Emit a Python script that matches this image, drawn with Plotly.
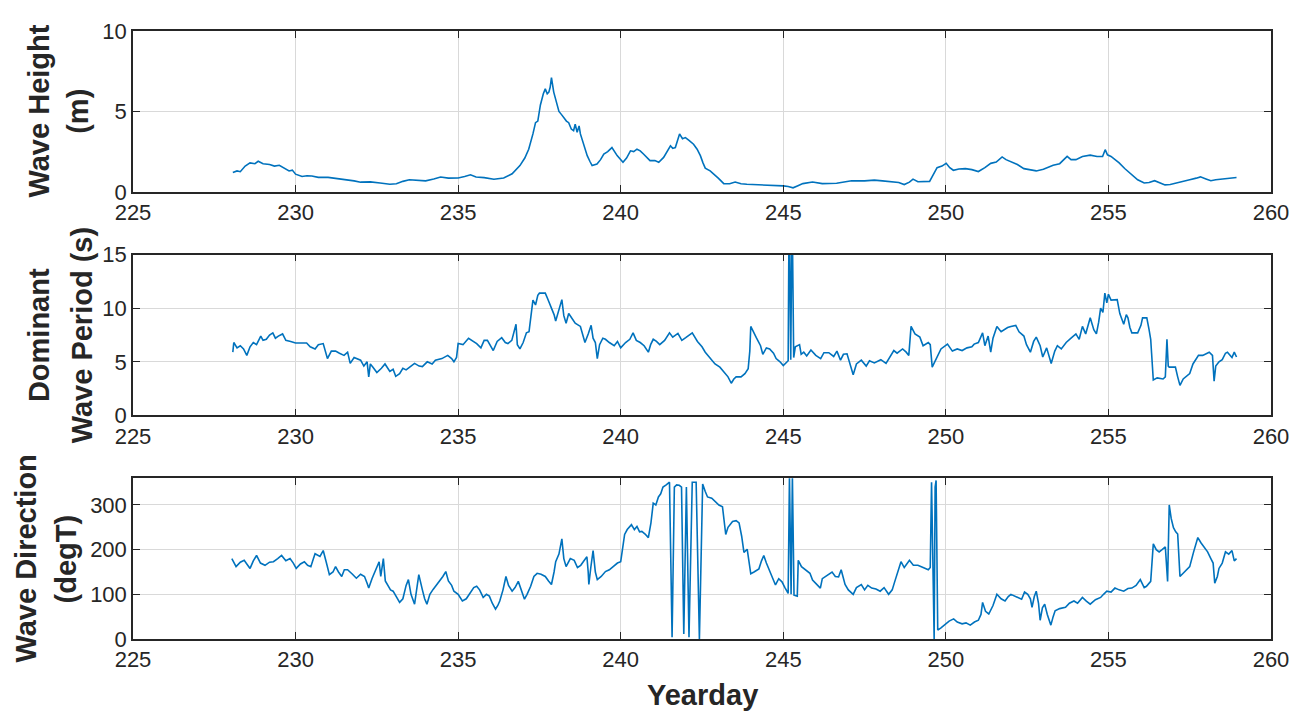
import plotly.graph_objects as go
from plotly.subplots import make_subplots

# wave height (m) vs yearday
height_day = [228.07, 228.2, 228.3, 228.45, 228.6, 228.75, 228.85, 229.0, 229.2, 229.35, 229.5, 229.65,
              229.8, 229.9, 230.0, 230.2, 230.35, 230.5, 230.7, 231.0, 231.2, 231.5, 231.8, 232.0, 232.3,
              232.6, 232.9, 233.1, 233.3, 233.5, 233.75, 234.0, 234.25, 234.46, 234.7, 235.0, 235.2, 235.38,
              235.55, 235.8, 236.1, 236.4, 236.66, 236.9, 237.05, 237.17, 237.3, 237.38, 237.45, 237.53,
              237.62, 237.68, 237.74, 237.79, 237.83, 237.87, 237.94, 238.02, 238.1, 238.18, 238.25, 238.33,
              238.4, 238.48, 238.55, 238.6, 238.66, 238.72, 238.76, 238.85, 238.97, 239.05, 239.12, 239.27,
              239.38, 239.48, 239.6, 239.73, 239.8, 239.89, 240.07, 240.18, 240.3, 240.4, 240.5, 240.6,
              240.7, 240.8, 240.9, 241.05, 241.17, 241.32, 241.45, 241.53, 241.6, 241.68, 241.75, 241.81,
              241.9, 241.99, 242.1, 242.24, 242.35, 242.45, 242.53, 242.6, 242.75, 242.86, 243.0, 243.17,
              243.35, 243.52, 243.7, 243.88, 244.29, 244.7, 245.0, 245.15, 245.3, 245.45, 245.6, 245.9,
              246.2, 246.64, 246.9, 247.1, 247.5, 247.8, 248.05, 248.3, 248.55, 248.72, 248.88, 248.99,
              249.14, 249.5, 249.62, 249.73, 249.88, 250.01, 250.12, 250.23, 250.4, 250.6, 250.8, 251.0,
              251.2, 251.38, 251.55, 251.73, 251.85, 252.0, 252.2, 252.4, 252.6, 252.78, 253.0, 253.3,
              253.5, 253.73, 253.85, 254.0, 254.2, 254.44, 254.65, 254.82, 254.9, 254.97, 255.08, 255.2,
              255.33, 255.5, 255.7, 255.9, 256.1, 256.25, 256.42, 256.55, 256.74, 256.9, 257.13, 257.3,
              257.5, 257.7, 257.83, 258.0, 258.15, 258.3, 258.53, 258.75, 258.94]
height_m = [1.2, 1.3, 1.25, 1.6, 1.8, 1.75, 1.9, 1.75, 1.7, 1.6, 1.65, 1.45,
            1.3, 1.35, 1.1, 0.95, 1.0, 0.98, 0.9, 0.9, 0.85, 0.75, 0.68, 0.6, 0.62,
            0.55, 0.47, 0.5, 0.65, 0.75, 0.72, 0.68, 0.8, 0.92, 0.85, 0.86, 0.95, 1.06,
            0.92, 0.88, 0.78, 0.86, 1.12, 1.63, 2.1, 2.65, 3.6, 4.3, 4.4, 5.4,
            6.1, 6.4, 6.1, 6.2, 6.5, 7.1, 6.2, 5.6, 5.0, 4.8, 4.6, 4.4,
            4.3, 3.9, 3.8, 4.2, 3.7, 4.1, 3.6, 3.0, 2.25, 1.9, 1.63, 1.73,
            2.0, 2.35, 2.5, 2.75, 2.5, 2.25, 1.84, 2.1, 2.55, 2.5, 2.65, 2.55,
            2.35, 2.15, 1.94, 1.95, 1.84, 2.14, 2.6, 2.86, 2.7, 2.75, 3.2, 3.6,
            3.3, 3.37, 3.2, 2.96, 2.65, 2.25, 1.8, 1.47, 1.3, 1.12, 0.85, 0.51,
            0.5, 0.61, 0.5, 0.47, 0.45, 0.41, 0.37, 0.33, 0.25, 0.38, 0.51, 0.61,
            0.51, 0.53, 0.6, 0.69, 0.68, 0.73, 0.68, 0.63, 0.58, 0.45, 0.6, 0.79,
            0.63, 0.65, 1.05, 1.5, 1.6, 1.77, 1.5, 1.34, 1.42, 1.44, 1.38, 1.26,
            1.5, 1.77, 1.85, 2.17, 2.0, 1.85, 1.7, 1.44, 1.38, 1.3, 1.4, 1.65,
            1.75, 2.2, 2.0, 2.0, 2.2, 2.28, 2.2, 2.2, 2.62, 2.3, 2.2, 2.0,
            1.8, 1.45, 1.1, 0.75, 0.55, 0.58, 0.69, 0.6, 0.43, 0.45, 0.55, 0.65,
            0.75, 0.85, 0.93, 0.8, 0.69, 0.75, 0.79, 0.82, 0.89]

# dominant wave period (s) vs yearday
period_day = [228.07, 228.1, 228.2, 228.3, 228.4, 228.5, 228.6, 228.7, 228.8, 228.93, 229.0, 229.1,
              229.2, 229.3, 229.38, 229.47, 229.6, 229.7, 229.85, 230.0, 230.34, 230.45, 230.6, 230.7,
              230.85, 230.98, 231.1, 231.23, 231.35, 231.49, 231.6, 231.68, 231.8, 232.0, 232.1, 232.2,
              232.25, 232.3, 232.38, 232.5, 232.64, 232.75, 232.9, 233.0, 233.08, 233.2, 233.3, 233.4,
              233.55, 233.66, 233.8, 233.9, 234.05, 234.2, 234.3, 234.5, 234.68, 234.8, 234.87, 234.95,
              235.0, 235.15, 235.32, 235.45, 235.57, 235.7, 235.8, 235.9, 236.0, 236.08, 236.2, 236.34,
              236.45, 236.53, 236.65, 236.78, 236.82, 236.9, 237.0, 237.1, 237.18, 237.25, 237.3, 237.38,
              237.45, 237.5, 237.68, 237.75, 237.87, 237.95, 238.0, 238.1, 238.19, 238.25, 238.32, 238.4,
              238.5, 238.6, 238.76, 238.84, 238.9, 239.0, 239.09, 239.15, 239.22, 239.28, 239.35, 239.45,
              239.53, 239.65, 239.8, 239.9, 240.0, 240.15, 240.28, 240.38, 240.48, 240.6, 240.72, 240.85,
              240.92, 241.0, 241.1, 241.2, 241.35, 241.5, 241.6, 241.76, 241.88, 242.0, 242.1, 242.2,
              242.36, 242.5, 242.6, 242.75, 242.9, 243.05, 243.2, 243.3, 243.4, 243.48, 243.55, 243.7,
              243.82, 243.92, 243.97, 244.0, 244.17, 244.3, 244.37, 244.48, 244.58, 244.7, 244.78, 244.9,
              245.0, 245.1, 245.15, 245.18, 245.23, 245.27, 245.32, 245.37, 245.5, 245.55, 245.63, 245.72,
              245.85, 246.0, 246.15, 246.25, 246.4, 246.55, 246.65, 246.76, 246.85, 246.96, 247.05, 247.15,
              247.25, 247.4, 247.55, 247.65, 247.8, 248.0, 248.16, 248.3, 248.4, 248.5, 248.67, 248.78,
              248.86, 248.93, 249.05, 249.2, 249.3, 249.46, 249.52, 249.58, 249.7, 249.85, 250.05, 250.2,
              250.35, 250.5, 250.65, 250.8, 250.87, 251.0, 251.13, 251.2, 251.3, 251.38, 251.45, 251.57,
              251.7, 251.9, 252.0, 252.15, 252.25, 252.4, 252.48, 252.6, 252.7, 252.78, 252.9, 252.98,
              253.1, 253.24, 253.35, 253.43, 253.55, 253.7, 253.85, 254.0, 254.1, 254.2, 254.3, 254.44,
              254.55, 254.63, 254.7, 254.76, 254.83, 254.89, 254.95, 255.0, 255.08, 255.27, 255.35, 255.47,
              255.55, 255.6, 255.66, 255.72, 255.9, 256.0, 256.05, 256.18, 256.25, 256.3, 256.38, 256.5,
              256.68, 256.75, 256.8, 256.84, 256.87, 257.06, 257.13, 257.2, 257.3, 257.5, 257.6, 257.77,
              257.9, 258.1, 258.2, 258.25, 258.3, 258.4, 258.5, 258.6, 258.66, 258.8, 258.87, 258.94]
period_s = [5.9, 6.8, 6.3, 6.5, 6.2, 5.6, 6.4, 6.8, 6.6, 7.4, 7.0, 7.1,
            7.5, 7.7, 7.2, 7.4, 7.6, 7.0, 6.9, 6.75, 6.75, 6.4, 6.2, 6.6,
            6.7, 5.3, 6.0, 6.0, 5.8, 5.6, 5.9, 4.85, 5.4, 5.15, 4.6, 5.0,
            3.6, 4.8, 4.5, 4.0, 4.4, 4.8, 4.1, 4.3, 3.65, 3.9, 4.4, 4.25,
            4.6, 4.85, 4.6, 4.55, 5.0, 4.8, 5.15, 5.3, 5.6, 5.3, 5.0, 5.4,
            6.7, 6.6, 7.2, 6.9, 6.7, 6.3, 7.0, 7.0, 6.5, 6.05, 6.9, 7.25,
            6.8, 6.7, 7.0, 8.5, 6.6, 6.2, 6.8, 7.7, 7.8, 9.8, 10.75, 10.3,
            11.2, 11.4, 11.4, 10.9, 10.0, 9.4, 8.8, 9.9, 10.8, 9.3, 8.6, 9.5,
            9.1, 8.6, 8.3, 7.4, 6.8, 7.6, 8.4, 7.2, 6.8, 5.3, 6.6, 7.2,
            7.1, 6.8, 6.5, 6.9, 6.3, 6.8, 7.1, 7.7, 7.0, 6.8, 6.5, 5.9,
            6.6, 7.1, 6.9, 6.6, 7.0, 7.7, 7.3, 7.65, 7.0, 7.25, 7.5, 7.7,
            6.9, 6.4, 5.9, 5.3, 4.8, 4.5, 3.9, 3.6, 3.0, 3.4, 3.6, 3.6,
            3.9, 4.35, 6.0, 8.3, 7.25, 6.5, 5.7, 6.3, 6.2, 5.8, 5.3, 5.0,
            4.65, 4.9, 5.1, 20.0, 5.2, 20.0, 5.4, 6.4, 6.6, 5.7, 5.9, 5.55,
            6.1, 5.6, 5.3, 5.85, 5.85, 5.5, 6.0, 5.15, 5.7, 5.75, 4.9, 3.8,
            4.8, 5.15, 4.6, 5.1, 4.9, 5.2, 4.85, 5.5, 6.05, 5.8, 6.2, 5.9,
            5.6, 8.3, 7.6, 7.3, 6.5, 6.8, 6.6, 4.5, 5.3, 6.2, 6.65, 6.0,
            6.2, 6.05, 6.3, 6.4, 6.65, 6.8, 7.7, 6.5, 7.4, 5.9, 7.2, 8.3,
            7.8, 8.2, 8.3, 8.4, 7.8, 7.4, 6.6, 5.9, 6.9, 7.3, 6.5, 5.45,
            6.3, 4.85, 6.0, 6.5, 6.2, 6.8, 7.2, 7.6, 7.1, 8.3, 7.6, 9.1,
            8.0, 7.6, 8.7, 10.0, 9.6, 11.4, 10.5, 11.3, 10.75, 10.8, 9.5, 8.5,
            9.4, 9.1, 8.2, 7.7, 7.7, 8.4, 9.1, 9.1, 8.0, 7.1, 3.3, 3.5,
            3.4, 3.6, 7.1, 4.6, 4.5, 4.5, 3.6, 2.8, 3.4, 3.9, 4.8, 5.6,
            5.6, 5.9, 5.6, 3.2, 4.6, 5.0, 5.2, 5.8, 5.9, 5.4, 5.9, 5.45]

# wave direction (degT) vs yearday
dir_day = [228.04, 228.1, 228.17, 228.3, 228.42, 228.5, 228.6, 228.7, 228.8, 228.92, 229.06, 229.2,
           229.32, 229.45, 229.57, 229.7, 229.83, 229.93, 230.02, 230.15, 230.27, 230.37, 230.47, 230.55,
           230.6, 230.75, 230.85, 230.95, 231.04, 231.15, 231.23, 231.32, 231.42, 231.5, 231.6, 231.75,
           231.87, 232.0, 232.12, 232.2, 232.25, 232.35, 232.44, 232.57, 232.62, 232.7, 232.76, 232.83,
           232.92, 233.0, 233.1, 233.2, 233.3, 233.4, 233.47, 233.55, 233.66, 233.72, 233.79, 233.9,
           233.97, 234.04, 234.13, 234.23, 234.33, 234.43, 234.53, 234.62, 234.7, 234.8, 234.87, 235.0,
           235.13, 235.25, 235.38, 235.48, 235.57, 235.66, 235.77, 235.87, 235.96, 236.05, 236.15, 236.22,
           236.28, 236.38, 236.47, 236.55, 236.66, 236.75, 236.85, 236.95, 237.04, 237.12, 237.23, 237.33,
           237.43, 237.55, 237.68, 237.78, 237.87, 237.95, 238.0, 238.1, 238.19, 238.25, 238.32, 238.45,
           238.57, 238.67, 238.77, 238.87, 238.96, 239.0, 239.02, 239.08, 239.15, 239.22, 239.28, 239.4,
           239.53, 239.65, 239.8, 239.9, 240.0, 240.06, 240.12, 240.2, 240.33, 240.42, 240.5, 240.58,
           240.65, 240.75, 240.85, 240.93, 241.0, 241.08, 241.16, 241.23, 241.3, 241.4, 241.5, 241.58,
           241.65, 241.72, 241.8, 241.87, 241.94, 242.02, 242.1, 242.2, 242.26, 242.32, 242.42, 242.52,
           242.6, 242.67, 242.8, 242.92, 243.02, 243.13, 243.18, 243.23, 243.3, 243.44, 243.55, 243.64,
           243.72, 243.79, 243.89, 244.0, 244.1, 244.25, 244.33, 244.4, 244.48, 244.55, 244.65, 244.76,
           244.86, 244.96, 245.05, 245.15, 245.19, 245.24, 245.28, 245.33, 245.43, 245.46, 245.56, 245.64,
           245.75, 245.82, 245.9, 246.0, 246.14, 246.2, 246.3, 246.4, 246.5, 246.6, 246.7, 246.78,
           246.9, 247.0, 247.15, 247.25, 247.4, 247.5, 247.6, 247.72, 247.85, 247.98, 248.1, 248.24,
           248.35, 248.43, 248.52, 248.62, 248.72, 248.88, 249.0, 249.14, 249.3, 249.46, 249.52, 249.56,
           249.64, 249.67, 249.7, 249.75, 249.85, 249.98, 250.1, 250.24, 250.35, 250.5, 250.62, 250.75,
           250.88, 251.0, 251.08, 251.13, 251.22, 251.32, 251.45, 251.57, 251.7, 251.82, 251.92, 252.0,
           252.15, 252.33, 252.42, 252.52, 252.6, 252.65, 252.72, 252.78, 252.85, 252.9, 252.97, 253.04,
           253.12, 253.23, 253.3, 253.36, 253.5, 253.68, 253.8, 253.94, 254.05, 254.2, 254.32, 254.44,
           254.6, 254.76, 254.85, 254.95, 255.08, 255.2, 255.33, 255.47, 255.6, 255.72, 255.85, 255.98,
           256.1, 256.17, 256.3, 256.38, 256.47, 256.56, 256.65, 256.75, 256.82, 256.87, 256.93, 257.0,
           257.07, 257.13, 257.2, 257.35, 257.5, 257.62, 257.75, 257.85, 257.95, 258.05, 258.15, 258.22,
           258.27, 258.35, 258.4, 258.5, 258.6, 258.7, 258.8, 258.87, 258.94]
dir_deg = [180, 170, 162, 172, 176, 168, 158, 175, 187, 170, 165, 172,
           173, 180, 187, 175, 180, 170, 158, 168, 173, 165, 162, 180,
           191, 185, 198, 170, 144, 150, 162, 150, 140, 155, 155, 145,
           136, 145, 140, 125, 114, 135, 151, 173, 140, 180, 130, 122,
           110, 107, 95, 82, 90, 120, 133, 100, 78, 110, 144, 110,
           90, 78, 100, 111, 120, 129, 140, 151, 130, 120, 107, 100,
           85, 90, 104, 115, 118, 110, 93, 100, 96, 80, 67, 75,
           85, 110, 140, 120, 107, 115, 129, 110, 89, 100, 118, 140,
           147, 145, 140, 130, 122, 150, 173, 190, 224, 180, 162, 180,
           176, 160, 165, 175, 184, 150, 122, 160, 198, 150, 133, 140,
           151, 155, 165, 170, 173, 200, 234, 245, 256, 245, 252, 240,
           241, 235, 227, 260, 304, 300, 318, 325, 340, 345, 351, 4,
           340, 345, 344, 340, 11, 340, 4, 351, 351, 351, 0, 347,
           330, 318, 315, 307, 300, 296, 270, 234, 250, 263, 265, 260,
           230, 194, 201, 146, 150, 157, 175, 187, 170, 157, 140, 121,
           135, 128, 115, 102, 365, 100, 365, 98, 96, 176, 162, 157,
           150, 147, 132, 125, 114, 135, 140, 144, 150, 140, 139, 155,
           122, 110, 100, 115, 122, 110, 120, 114, 112, 107, 115, 100,
           110, 129, 150, 173, 160, 176, 165, 165, 160, 155, 160, 351,
           0, 340, 355, 20, 25, 34, 40, 45, 38, 34, 36, 31,
           38, 42, 55, 82, 62, 56, 75, 100, 90, 85, 95, 100,
           95, 89, 105, 100, 90, 71, 95, 107, 80, 42, 70, 78,
           55, 31, 50, 63, 68, 71, 80, 85, 80, 93, 85, 78,
           88, 93, 100, 107, 105, 114, 110, 107, 113, 114, 120, 133,
           115, 118, 129, 213, 200, 195, 200, 206, 129, 300, 270, 249,
           240, 235, 140, 150, 162, 195, 227, 215, 206, 195, 180, 170,
           125, 140, 158, 170, 195, 190, 198, 175, 180]

x_ticks = [225, 230, 235, 240, 245, 250, 255, 260]
height_ticks = [0, 5, 10]
period_ticks = [0, 5, 10, 15]
dir_ticks = [0, 100, 200, 300]

blue = "#0072BD"
ink = "#262626"
font = "Liberation Sans, Arial, sans-serif"

fig = make_subplots(rows=3, cols=1)
fig.add_trace(go.Scatter(x=height_day, y=height_m, mode="lines",
                         line=dict(color=blue, width=1.6)), row=1, col=1)
fig.add_trace(go.Scatter(x=period_day, y=period_s, mode="lines",
                         line=dict(color=blue, width=1.6)), row=2, col=1)
fig.add_trace(go.Scatter(x=dir_day, y=dir_deg, mode="lines",
                         line=dict(color=blue, width=1.6)), row=3, col=1)

axis_style = dict(showline=True, mirror="ticks", linecolor=ink, linewidth=1.5,
                  ticks="inside", ticklen=7, tickwidth=1.3, tickcolor=ink,
                  showgrid=True, gridcolor="#d9d9d9", gridwidth=1, zeroline=False,
                  tickfont=dict(family=font, size=22, color=ink))

domains = [[0.7355, 1.0], [0.3677, 0.6323], [0.0, 0.2645]]
for i in range(3):
    fig.update_xaxes(axis_style, range=[225, 260], tickvals=x_ticks, row=i + 1, col=1)
fig.update_yaxes(axis_style, range=[0, 10], tickvals=height_ticks, domain=domains[0], row=1, col=1)
fig.update_yaxes(axis_style, range=[0, 15], tickvals=period_ticks, domain=domains[1], row=2, col=1)
fig.update_yaxes(axis_style, range=[0, 360], tickvals=dir_ticks, domain=domains[2], row=3, col=1)

# y labels (two lines each) and x label
title_font = dict(family=font, size=29, color=ink)
labels = [
    ("Wave Height", -0.0825, 0.8677), ("(m)", -0.048, 0.8677),
    ("Dominant", -0.0825, 0.5), ("Wave Period (s)", -0.0445, 0.5),
    ("Wave Direction", -0.094, 0.1323), ("(degT)", -0.059, 0.1323),
]
for text, xp, yp in labels:
    fig.add_annotation(text="<b>" + text + "</b>", x=xp, y=yp, xref="paper", yref="paper",
                       xanchor="center", yanchor="middle", textangle=-90,
                       showarrow=False, font=title_font)
fig.add_annotation(text="<b>Yearday</b>", x=0.5, y=-0.0915, xref="paper", yref="paper",
                   xanchor="center", yanchor="middle", showarrow=False, font=title_font)

# page body adds an 8px offset, so margins are shifted to compensate
fig.update_layout(width=1301, height=713, showlegend=False,
                  paper_bgcolor="white", plot_bgcolor="white",
                  margin=dict(l=125, r=38, t=11, b=82))

fig.write_html("out.html")
